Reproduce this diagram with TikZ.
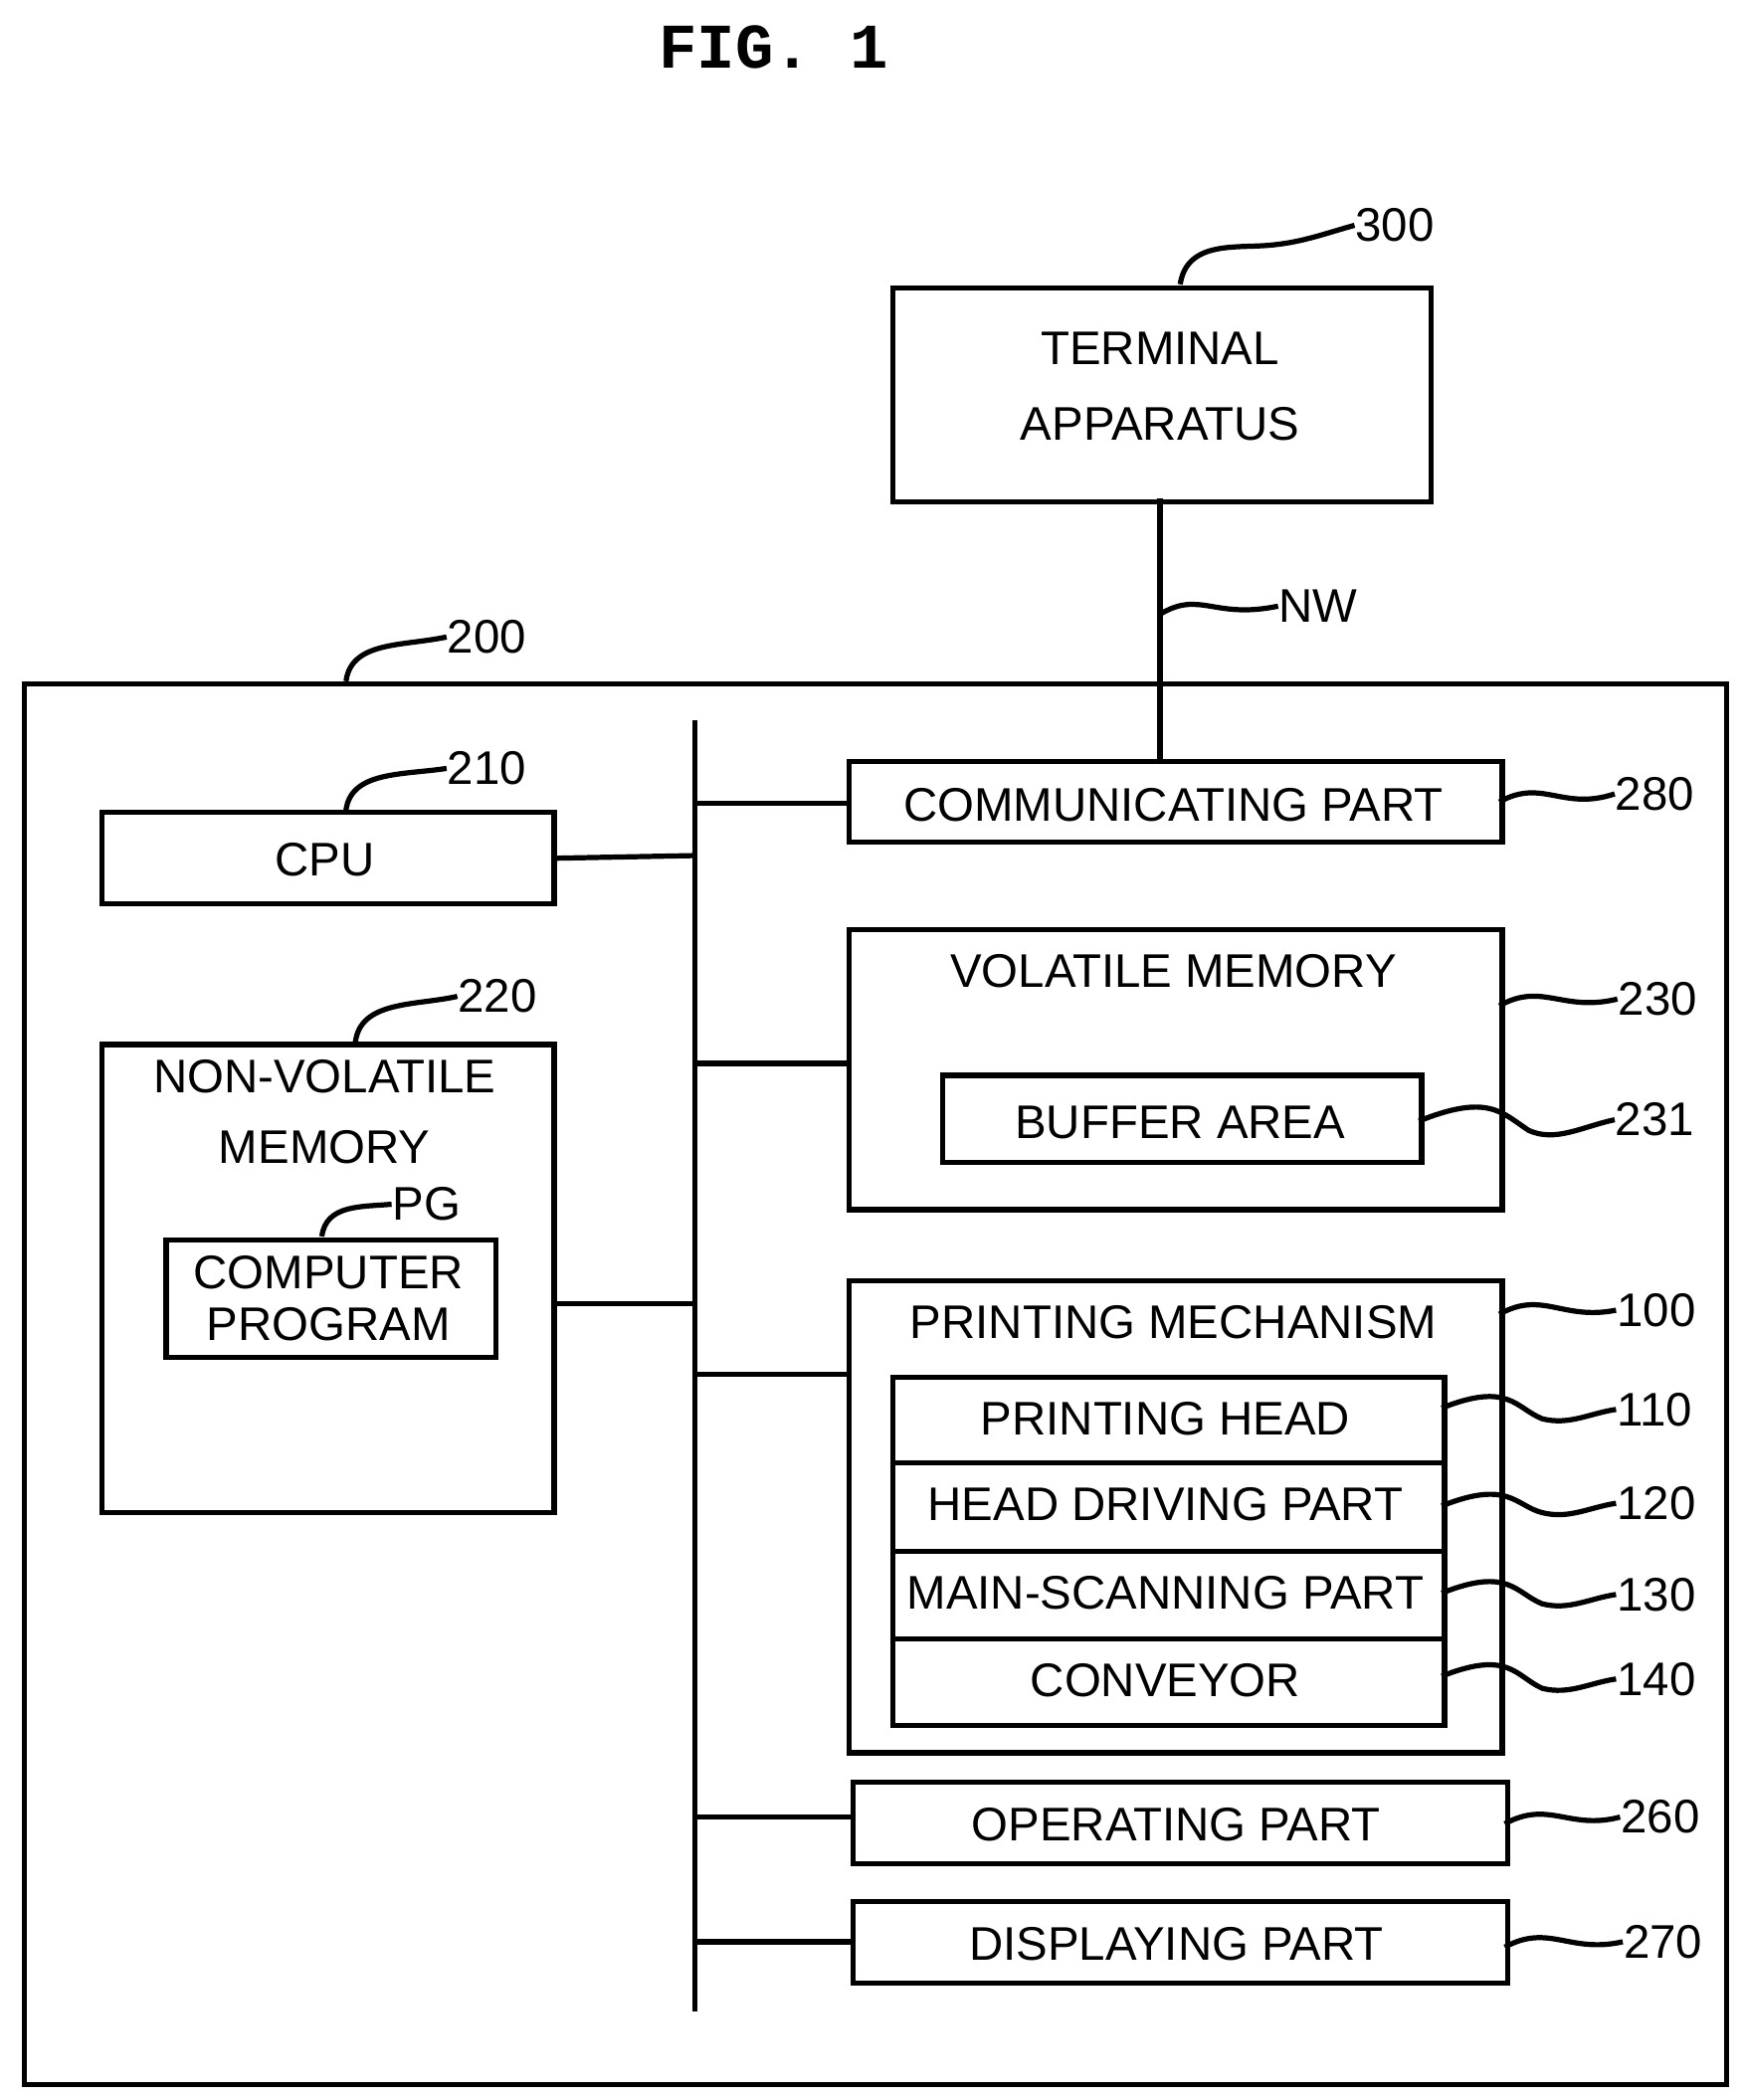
\documentclass[tikz,border=0pt]{standalone}
\usepackage{fontspec}
\setmainfont{Liberation Sans}
\newfontfamily\figfont{Liberation Mono}
\begin{document}
\begin{tikzpicture}[x=0.01cm,y=-0.01cm,
  box/.style={draw,line width=1.1pt,inner sep=0pt,anchor=north west},
  txt/.style={font=\fontsize{10}{12}\selectfont,inner sep=0pt},
  lab/.style={font=\fontsize{10}{12}\selectfont,inner sep=0pt,anchor=west},
  ln/.style={line width=1.1pt},
  sq/.style={line width=1.1pt}]
\useasboundingbox (0,0) rectangle (1300,1566);
\node[font=\figfont\fontsize{13.5}{15}\selectfont\bfseries,inner sep=0pt] (fig) at (577,35) {FIG.\ 1};
% terminal
\node[box,minimum width=401\pgflinewidth*0+4.01cm,minimum height=1.59cm] (term) at (664,213) {};
\node[txt,align=center] (termt) at (865,288) {TERMINAL\\[4pt]APPARATUS};
\node[lab] (l300) at (1010,168) {300};
\coordinate (s300) at (880,212);
\draw[sq] (s300) .. controls (885,180) and (920,185) .. (945,183) .. controls (970,181) and (985,175) .. (l300.west);
% outer
\node[box,minimum width=12.69cm,minimum height=10.44cm] (outer) at (16,508) {};
\node[lab] (l200) at (333,475) {200};
\coordinate (s200) at (258,508);
\draw[sq] (s200) .. controls (262,478) and (300,482) .. (l200.west);
% NW
\coordinate (comtop) at (865,566);
\draw[ln] (865,372) -- (comtop);
\node[lab] (lnw) at (953,452) {NW};
\draw[sq] (865,458) .. controls (895,440) and (905,462) .. (lnw.west);
% bus
\coordinate (bt) at (518,537); \coordinate (bb) at (518,1500);
\draw[ln] (bt) -- (bb);
% CPU
\node[box,minimum width=3.37cm,minimum height=0.68cm] (cpu) at (74,604) {};
\node[txt] at (242,641) {CPU};
\node[lab] (l210) at (333,573) {210};
\draw[sq] (258,604) .. controls (262,575) and (300,578) .. (l210.west);
\draw[ln] (cpu.east) -- (518,638);
% NVM
\node[box,minimum width=3.37cm,minimum height=3.49cm] (nvm) at (74,777) {};
\node[txt,align=center] at (242,829) {NON-VOLATILE\\[3pt]MEMORY};
\node[lab] (l220) at (341,743) {220};
\draw[sq] (265,777) .. controls (269,746) and (310,750) .. (l220.west);
\draw[ln] (411,972) -- (518,972);
\node[box,minimum width=2.46cm,minimum height=0.87cm] (pg) at (122,923) {};
\node[txt,align=center] at (245,968) {COMPUTER\\[-1pt]PROGRAM};
\node[lab] (lpg) at (292,898) {PG};
\draw[sq] (240,922) .. controls (243,898) and (270,900) .. (lpg.west);
% communicating
\node[box,minimum width=4.87cm,minimum height=0.60cm] (com) at (631,566) {};
\node[txt] at (875,600) {COMMUNICATING PART};
\draw[ln] (518,599) -- (631,599);
\node[lab] (l280) at (1204,592) {280};
\draw[sq] (1118,598) .. controls (1150,580) and (1165,605) .. (l280.west);
% volatile
\node[box,minimum width=4.87cm,minimum height=2.09cm] (vol) at (631,691) {};
\node[txt] at (875,724) {VOLATILE MEMORY};
\draw[ln] (518,793) -- (631,793);
\node[lab] (l230) at (1206,745) {230};
\draw[sq] (1118,750) .. controls (1150,732) and (1165,755) .. (l230.west);
\node[box,minimum width=3.57cm,minimum height=0.65cm] (buf) at (701,800) {};
\node[txt] at (880,837) {BUFFER AREA};
\node[lab] (l231) at (1204,835) {231};
\draw[sq] (1058,836) .. controls (1110,815) and (1120,830) .. (1140,843) .. controls (1160,852) and (1180,840) .. (l231.west);
% printing
\node[box,minimum width=4.87cm,minimum height=3.52cm] (pm) at (631,953) {};
\node[txt] at (875,986) {PRINTING MECHANISM};
\draw[ln] (518,1025) -- (631,1025);
\node[lab] (l100) at (1205,977) {100};
\draw[sq] (1118,980) .. controls (1150,962) and (1165,985) .. (l100.west);
\foreach \n/\y/\h/\t/\ly/\ty in {ph/1025/0.64/PRINTING HEAD/1051/1050,hd/1089/0.66/HEAD DRIVING PART/1121/1123,ms/1155/0.65/MAIN-SCANNING PART/1189/1188,cv/1220/0.65/CONVEYOR/1252/1250}{
  \node[box,minimum width=4.11cm,minimum height=\h cm] (\n) at (664,\y) {};
  \node[txt] at (869,\y+33) {\t};
  \node[lab] (l\n) at (1205,\ly) {};
  \draw[sq] (1075,\ty) .. controls (1125,1.0*\ty-20) and (1130,\ty) .. (1150,\ly+7) .. controls (1170,\ly+12) and (1185,\ly+3) .. (l\n.west);
}
\node[lab] at (1205,1051) {110};
\node[lab] at (1205,1121) {120};
\node[lab] at (1205,1189) {130};
\node[lab] at (1205,1252) {140};
% operating
\node[box,minimum width=4.88cm,minimum height=0.61cm] (op) at (634,1327) {};
\node[txt] at (877,1361) {OPERATING PART};
\draw[ln] (518,1355) -- (634,1355);
\node[lab] (l260) at (1208,1355) {260};
\draw[sq] (1122,1360) .. controls (1155,1342) and (1170,1365) .. (l260.west);
% displaying
\node[box,minimum width=4.88cm,minimum height=0.61cm] (dp) at (634,1416) {};
\node[txt] at (877,1450) {DISPLAYING PART};
\draw[ln] (518,1448) -- (634,1448);
\node[lab] (l270) at (1210,1448) {270};
\draw[sq] (1122,1452) .. controls (1155,1434) and (1170,1457) .. (l270.west);
\end{tikzpicture}
\end{document}
